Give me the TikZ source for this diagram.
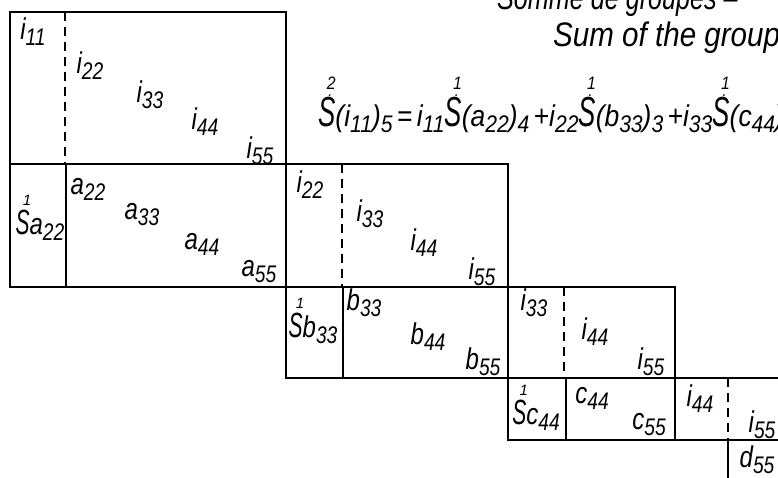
\documentclass[tikz,border=0pt]{standalone}
\usepackage{fontspec}
\setmainfont{Liberation Sans}
\newsavebox{\mySbox}
\newcommand{\lfont}{\fontsize{30}{32}\selectfont\itshape}
\newcommand{\sub}[1]{\raisebox{-6pt}{\fontsize{24}{26}\selectfont\itshape #1}}
\newcommand{\ix}[2]{\scalebox{0.8}[1]{\lfont #1\sub{#2}}}
% number over S (block labels)
\newcommand{\topS}[1]{\sbox{\mySbox}{\scalebox{0.6}[1]{\fontsize{35}{37}\selectfont\itshape S}}%
  \rlap{\hbox to \wd\mySbox{\hss\kern9pt\raisebox{\dimexpr\ht\mySbox+5pt\relax}{\fontsize{15}{16}\selectfont\itshape #1}\hss}}\usebox{\mySbox}}
% number and dot over S (formula)
\newcommand{\dotS}[1]{\sbox{\mySbox}{\scalebox{0.7}[1]{\fontsize{42}{44}\selectfont\itshape S}}%
  \rlap{\hbox to \wd\mySbox{\hss\kern8pt\raisebox{\dimexpr\ht\mySbox+1pt\relax}{\fontsize{16}{16}\selectfont .}\hss}}%
  \rlap{\hbox to \wd\mySbox{\hss\kern10pt\raisebox{\dimexpr\ht\mySbox+8pt\relax}{\fontsize{18}{18}\selectfont\itshape #1}\hss}}\usebox{\mySbox}}
\begin{document}
\begin{tikzpicture}[x=1pt,y=-1pt,
  frame/.style={line width=2.4pt},
  dsh/.style={line width=1.4pt, dash pattern=on 9pt off 6pt},
  lab/.style={inner sep=0pt},
  title/.style={inner sep=0pt, font=\fontsize{34}{36}\selectfont\itshape}]
\useasboundingbox (0,0) rectangle (778,478);
\clip (0,0) rectangle (778,478);
% blocks
\draw[frame] (10,12) rectangle (286,164);
\draw[dsh] (65,12) -- (65,164);
\draw[frame] (10,164) rectangle (286,287);
\draw[frame] (66,164) -- (66,287);
\draw[frame] (286,164) rectangle (508,287);
\draw[dsh] (342,164) -- (342,287);
\draw[frame] (286,287) rectangle (508,378);
\draw[frame] (343,287) -- (343,378);
\draw[frame] (508,287) rectangle (675,378);
\draw[dsh] (564,287) -- (564,378);
\draw[frame] (508,378) rectangle (675,440);
\draw[frame] (566,378) -- (566,440);
\draw[frame] (675,378) rectangle (800,440);
\draw[dsh] (728,378) -- (728,440);
\draw[frame] (728,440) rectangle (800,500);
% block 1
\node[lab] (r1a) at (33,32) {\ix{i}{11}};
\node[lab] (r1b) at (90,66) {\ix{i}{22}};
\node[lab] (r1c) at (150,95) {\ix{i}{33}};
\node[lab] (r1d) at (205,122) {\ix{i}{44}};
\node[lab] (r1e) at (260,151) {\ix{i}{55}};
% block a
\node[lab] (sa) at (40,218) {\topS{1}\ix{a}{22}};
\node[lab] (a2) at (88,189) {\ix{a}{22}};
\node[lab] (a3) at (142,215) {\ix{a}{33}};
\node[lab] (a4) at (202,244) {\ix{a}{44}};
\node[lab] (a5) at (259,272) {\ix{a}{55}};
% block i2
\node[lab] (r2b) at (310,185) {\ix{i}{22}};
\node[lab] (r2c) at (370,214) {\ix{i}{33}};
\node[lab] (r2d) at (424,243) {\ix{i}{44}};
\node[lab] (r2e) at (482,272) {\ix{i}{55}};
% block b
\node[lab] (sb) at (313,321) {\topS{1}\ix{b}{33}};
\node[lab] (b3) at (364,303) {\ix{b}{33}};
\node[lab] (b4) at (428,337) {\ix{b}{44}};
\node[lab] (b5) at (483,362) {\ix{b}{55}};
% block i3
\node[lab] (r3c) at (534,303) {\ix{i}{33}};
\node[lab] (r3d) at (595,332) {\ix{i}{44}};
\node[lab] (r3e) at (651,362) {\ix{i}{55}};
% block c
\node[lab] (sc) at (536,408) {\topS{1}\ix{c}{44}};
\node[lab] (c4) at (592,398) {\ix{c}{44}};
\node[lab] (c5) at (649,425) {\ix{c}{55}};
% block i4
\node[lab] (r4d) at (700,399) {\ix{i}{44}};
\node[lab] (r4e) at (762,425) {\ix{i}{55}};
% block d
\node[lab] (d5) at (757,460) {\ix{d}{55}};
% titles
\node[title, anchor=base west] (t1) at (497,10) {\scalebox{0.74}[1]{Somme de groupes –}};
\node[title, anchor=base west] (t2) at (553,47) {\scalebox{0.87}[1]{Sum of the groups}};
% formula
\node[lab, anchor=base west] (f) at (318,127) {\scalebox{0.88}[1]{\lfont\dotS{2}(i\sub{11})\sub{5}\,=\,i\sub{11}\dotS{1}(a\sub{22})\sub{4}\hspace{5pt}+i\sub{22}\dotS{1}(b\sub{33})\sub{3}\hspace{5pt}+i\sub{33}\dotS{1}(c\sub{44})}};
\end{tikzpicture}
\end{document}
